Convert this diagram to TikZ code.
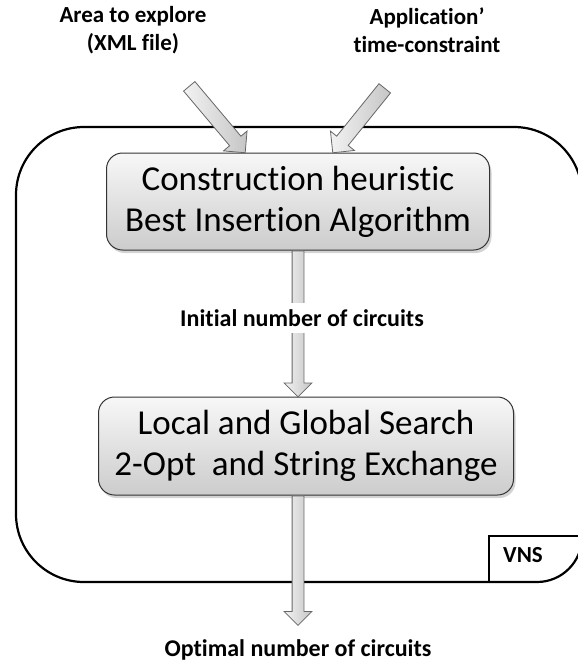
\documentclass[tikz,border=0pt]{standalone}
\usepackage{fontspec}
\setmainfont{Carlito}[Ligatures={NoCommon}]
\usetikzlibrary{shapes.arrows,shadows,calc}
\tikzset{
  lbl/.style={font=\bfseries\fontsize{23}{28}\selectfont, align=center, inner sep=1pt},
  lblb/.style={font=\bfseries\fontsize{24}{28}\selectfont, align=center, inner sep=1pt},
  procbox/.style={draw=black!80, line width=1pt, rounded corners=16pt, top color=gray!6, bottom color=gray!40,
     font=\fontsize{35}{41}\selectfont, align=center, inner sep=0pt,
     drop shadow={opacity=0.35, shadow xshift=2pt, shadow yshift=-3pt}},
  barrow/.style={single arrow, draw=black!60, line width=0.8pt, left color=gray!10, right color=gray!45,
     inner xsep=0pt, minimum width=0pt, single arrow head indent=0pt},
  frame/.style={draw=black, line width=2.2pt},
}
\newcommand\blockarrow[4]{% from, to, half shaft, head extend
  \path let \p1=(#1), \p2=(#2), \n1={atan2(\y2-\y1,\x2-\x1)}, \n2={veclen(\x2-\x1,\y2-\y1)} in
    node[barrow, inner ysep=#3, single arrow head extend=#4, minimum height=\n2, rotate=\n1, anchor=tail] at (\p1) {};
}
\begin{document}
\begin{tikzpicture}[x=1pt, y=-1pt]
\useasboundingbox (0,0) rectangle (578,665);
% outer frame
\draw[frame] (16,514) -- (16,195) arc[start angle=180, end angle=270, radius=68]
  -- (514,127) arc[start angle=270, end angle=360, radius=68]
  -- (582,537) arc[start angle=0, end angle=90, radius=45]
  -- (84,582) arc[start angle=90, end angle=180, radius=68] -- cycle;
% VNS tab
\draw[frame] (489,582) -- (489,536) -- (582,536);
\node[font=\bfseries\fontsize{23}{24}\selectfont, inner sep=0pt] (vns) at (523,555) {VNS};
% labels
\node[lbl] (in1) at (133,30) {Area to explore\\(XML file)};
\node[lbl] (in2) at (427,30) {Application’\\time-constraint};
\coordinate (t1) at (189,86);
\coordinate (t2) at (385,88);
% boxes
\node[procbox, minimum width=383pt, minimum height=97pt] (b1) at (298,201.5) {Construction heuristic\\Best Insertion Algorithm};
\node[procbox, minimum width=415pt, minimum height=98pt] (b2) at (306,446) {Local and Global Search\\2-Opt\ \ and String Exchange};
% arrows
\blockarrow{t1}{b1.north -| 245,0}{7pt}{8pt}
\blockarrow{t2}{b1.north -| 333,0}{7pt}{8pt}
\blockarrow{b1.south}{b1.south |- b2.north}{5.5pt}{8pt}
\coordinate (out) at (298,625);
\blockarrow{b1.south |- b2.south}{out}{5.5pt}{8pt}
\node[lblb, fill=white, inner ysep=6pt] (mid) at (302,318) {Initial number of circuits};
\node[lblb] (res) at (298,650) {Optimal number of circuits};
\end{tikzpicture}
\end{document}
